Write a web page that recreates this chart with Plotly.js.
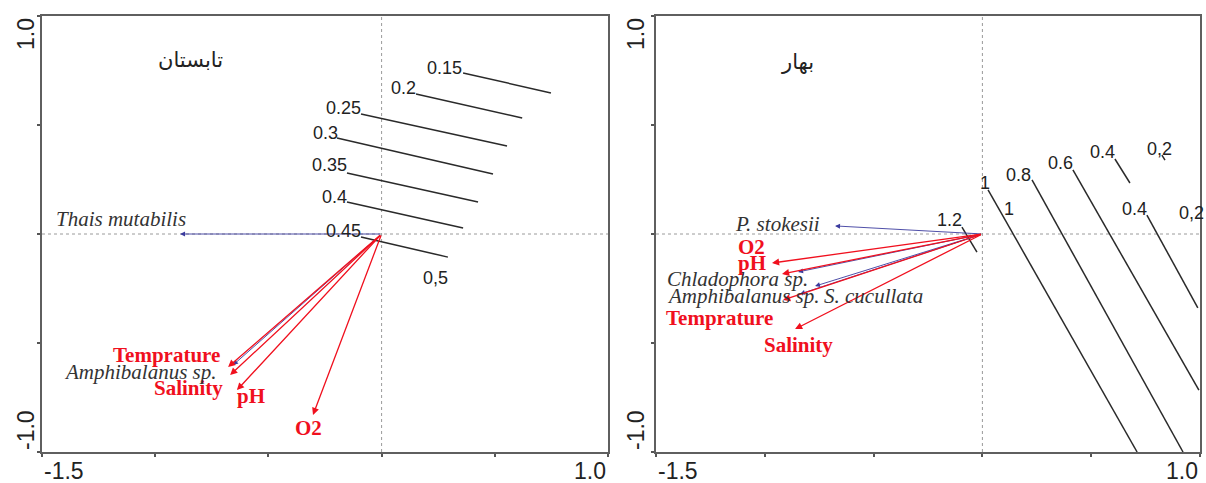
<!DOCTYPE html>
<html><head><meta charset="utf-8">
<script src="https://cdn.plot.ly/plotly-3.0.1.min.js"></script>
<style>html,body{margin:0;padding:0;background:#fff}#chart{width:1206px;height:483px}</style>
</head><body><div id="chart"></div>
<script>
// ---------- Summer panel (تابستان) ----------
const summerTitle = 'تابستان';
const summerEnvNames = ['Temprature', 'Salinity', 'pH', 'O2'];
const summerEnvX = [-0.678, -0.669, -0.639, -0.303];
const summerEnvY = [-0.610, -0.647, -0.716, -0.830];
const summerEnvLabelX = [-0.950, -0.851, -0.577, -0.323];
const summerEnvLabelY = [-0.555, -0.706, -0.743, -0.890];

const summerSpNames = ['Thais mutabilis', 'Amphibalanus sp.'];
const summerSpX = [-0.890, -0.656];
const summerSpY = [0.000, -0.601];
const summerSpLabelX = [-1.153, -1.065];
const summerSpLabelY = [0.069, -0.635];

const summerIsoX0 = [0.360, 0.152, -0.091, -0.197, -0.153, -0.153, -0.091];
const summerIsoY0 = [0.739, 0.642, 0.550, 0.440, 0.280, 0.147, -0.014];
const summerIsoX1 = [0.748, 0.621, 0.554, 0.492, 0.426, 0.360, 0.293];
const summerIsoY1 = [0.647, 0.532, 0.404, 0.275, 0.147, 0.028, -0.106];
const summerLevelLabels = ['0.15', '0.2', '0.25', '0.3', '0.35', '0.4', '0.45', '0,5'];
const summerLevelX = [0.280, 0.095, -0.170, -0.250, -0.228, -0.206, -0.170, 0.236];
const summerLevelY = [0.761, 0.670, 0.578, 0.463, 0.317, 0.170, 0.014, -0.202];

// ---------- Spring panel (بهار) ----------
const springTitle = 'بهار';
const springEnvNames = ['O2', 'pH', 'Temprature', 'Salinity'];
const springEnvX = [-0.967, -0.921, -0.916, -0.861];
const springEnvY = [-0.133, -0.183, -0.303, -0.436];
const springEnvLabelX = [-1.059, -1.059, -1.206, -0.845];
const springEnvLabelY = [-0.060, -0.133, -0.385, -0.507];

const springSpNames = ['P. stokesii', 'Chladophora sp.', 'Amphibalanus sp.', 'S. cucullata'];
const springSpX = [-0.677, -0.847, -0.838, -0.769];
const springSpY = [0.037, -0.174, -0.275, -0.239];
const springSpLabelX = [-0.942, -1.125, -0.738, -0.738];
const springSpLabelY = [0.048, -0.208, -0.284, -0.284];
const springSpAnchor = ['center', 'center', 'right', 'left'];

const springIsoX0 = [-0.094, 0.026, 0.228, 0.416, 0.609, 0.825, 0.756];
const springIsoY0 = [0.032, 0.202, 0.248, 0.294, 0.344, 0.362, 0.087];
const springIsoX1 = [-0.025, 0.711, 0.922, 0.995, 0.678, 0.839, 0.990];
const springIsoY1 = [-0.083, -1.000, -1.000, -0.716, 0.234, 0.339, -0.339];
const springLevelLabels = ['1.2', '1', '1', '0.8', '0.6', '0.4', '0,2', '0.4', '0,2'];
const springLevelX = [-0.149, 0.012, 0.122, 0.168, 0.357, 0.550, 0.816, 0.697, 0.963];
const springLevelY = [0.064, 0.234, 0.115, 0.271, 0.326, 0.376, 0.390, 0.115, 0.096];

// ---------- axis ticks ----------
const xTickVals = [-1.5, -1.0, -0.5, 0, 0.5, 1.0];
const yTickVals = [-1.0, -0.5, 0, 0.5, 1.0];
const xEndLabels = ['-1.5', '1.0'];
const yEndLabels = ['-1.0', '1.0'];

// ---------- styles ----------
const RED = '#f0101e';
const BLUE = '#3b3b9e';
const ISO = '#2a2a2a';
const serif = 'Liberation Serif, Times New Roman, serif';
const sans = 'Liberation Sans, Arial, sans-serif';

function segTrace(x0, y0, x1, y1, xa, ya) {
  const xs = [], ys = [];
  for (let i = 0; i < x0.length; i++) { xs.push(x0[i], x1[i], null); ys.push(y0[i], y1[i], null); }
  return { x: xs, y: ys, xaxis: xa, yaxis: ya, type: 'scatter', mode: 'lines',
    line: { color: ISO, width: 1.5 }, hoverinfo: 'skip', showlegend: false };
}

const traces = [
  segTrace(summerIsoX0, summerIsoY0, summerIsoX1, summerIsoY1, 'x', 'y'),
  segTrace(springIsoX0, springIsoY0, springIsoX1, springIsoY1, 'x2', 'y2')
];

const ann = [];
function arrows(xs, ys, xr, yr, color, w) {
  for (let i = 0; i < xs.length; i++) {
    ann.push({ xref: xr, yref: yr, axref: xr, ayref: yr, x: xs[i], y: ys[i], ax: 0, ay: 0,
      text: '', showarrow: true, arrowhead: 2, arrowsize: 1.1, arrowwidth: w, arrowcolor: color });
  }
}
function labels(names, xs, ys, xr, yr, font, fmt, anchors) {
  for (let i = 0; i < names.length; i++) {
    ann.push({ xref: xr, yref: yr, x: xs[i], y: ys[i], text: fmt(names[i]), showarrow: false,
      xanchor: anchors ? anchors[i] : 'center', yanchor: 'middle', font: font });
  }
}
const envFont = { family: serif, size: 21, color: RED };
const spFont = { family: serif, size: 21, color: '#333333' };
const lvlFont = { family: sans, size: 18, color: '#222222' };
const bold = s => '<b>' + s + '</b>';
const ital = s => '<i>' + s + '</i>';
const plain = s => s;

// species arrows first (under), then env arrows
arrows(summerSpX, summerSpY, 'x', 'y', BLUE, 0.9);
arrows(summerEnvX, summerEnvY, 'x', 'y', RED, 1.3);
arrows(springSpX, springSpY, 'x2', 'y2', BLUE, 0.9);
arrows(springEnvX, springEnvY, 'x2', 'y2', RED, 1.3);

labels(summerEnvNames, summerEnvLabelX, summerEnvLabelY, 'x', 'y', envFont, bold);
labels(summerSpNames, summerSpLabelX, summerSpLabelY, 'x', 'y', spFont, ital);
labels(summerLevelLabels, summerLevelX, summerLevelY, 'x', 'y', lvlFont, plain);
labels(springEnvNames, springEnvLabelX, springEnvLabelY, 'x2', 'y2', envFont, bold);
labels(springSpNames, springSpLabelX, springSpLabelY, 'x2', 'y2', spFont, ital, springSpAnchor);
labels(springLevelLabels, springLevelX, springLevelY, 'x2', 'y2', lvlFont, plain);

// panel titles
ann.push({ xref: 'x', yref: 'y', x: -0.846, y: 0.798, text: summerTitle, showarrow: false,
  font: { family: 'DejaVu Sans', size: 21, color: '#222' } });
ann.push({ xref: 'x2', yref: 'y2', x: -0.852, y: 0.789, text: springTitle, showarrow: false,
  font: { family: 'DejaVu Sans', size: 21, color: '#222' } });

// end tick labels
const tickFont = { family: sans, size: 23, color: '#222' };
[['x', 'y', 26 / 1206], ['x2', 'y2', 636 / 1206]].forEach(([xa, ya, px]) => {
  ann.push({ xref: xa, yref: 'paper', x: xTickVals[0], y: 12 / 483, text: xEndLabels[0],
    showarrow: false, xanchor: 'left', yanchor: 'middle', font: tickFont });
  ann.push({ xref: xa, yref: 'paper', x: xTickVals[xTickVals.length - 1], y: 12 / 483, text: xEndLabels[1],
    showarrow: false, xanchor: 'right', yanchor: 'middle', font: tickFont });
  ann.push({ xref: 'paper', yref: ya, x: px, y: yTickVals[0], text: yEndLabels[0], textangle: -90,
    showarrow: false, xanchor: 'center', yanchor: 'bottom', font: tickFont });
  ann.push({ xref: 'paper', yref: ya, x: px, y: yTickVals[yTickVals.length - 1], text: yEndLabels[1], textangle: -90,
    showarrow: false, xanchor: 'center', yanchor: 'top', font: tickFont });
});

const axBase = {
  tickvals: xTickVals, showticklabels: false, ticks: 'outside', ticklen: 3, tickwidth: 2,
  tickcolor: '#555', showline: true, mirror: true, linecolor: '#5f5f5f', linewidth: 2,
  showgrid: false, zeroline: false, fixedrange: true
};
const yDomain = [1 - 452 / 483, 1 - 16 / 483];
const layout = {
  width: 1206, height: 483, margin: { l: 0, r: 0, t: 0, b: 0 },
  paper_bgcolor: '#fff', plot_bgcolor: '#fff', showlegend: false,
  xaxis: Object.assign({}, axBase, { domain: [42 / 1206, 608 / 1206], range: [-1.5, 1.0], anchor: 'y' }),
  yaxis: Object.assign({}, axBase, { tickvals: yTickVals, domain: yDomain, range: [-1, 1], anchor: 'x' }),
  xaxis2: Object.assign({}, axBase, { domain: [656 / 1206, 1200 / 1206], range: [-1.5, 1.0], anchor: 'y2' }),
  yaxis2: Object.assign({}, axBase, { tickvals: yTickVals, domain: yDomain, range: [-1, 1], anchor: 'x2' }),
  shapes: [
    { type: 'line', xref: 'x', yref: 'y', x0: 0, x1: 0, y0: -1, y1: 1, line: { color: '#9a9a9a', width: 1, dash: 'dot' }, layer: 'below' },
    { type: 'line', xref: 'x', yref: 'y', x0: -1.5, x1: 1, y0: 0, y1: 0, line: { color: '#9a9a9a', width: 1, dash: 'dot' }, layer: 'below' },
    { type: 'line', xref: 'x2', yref: 'y2', x0: 0, x1: 0, y0: -1, y1: 1, line: { color: '#9a9a9a', width: 1, dash: 'dot' }, layer: 'below' },
    { type: 'line', xref: 'x2', yref: 'y2', x0: -1.5, x1: 1, y0: 0, y1: 0, line: { color: '#9a9a9a', width: 1, dash: 'dot' }, layer: 'below' }
  ],
  annotations: ann
};
Plotly.newPlot('chart', traces, layout, { staticPlot: true, displayModeBar: false });
</script>
</body></html>
